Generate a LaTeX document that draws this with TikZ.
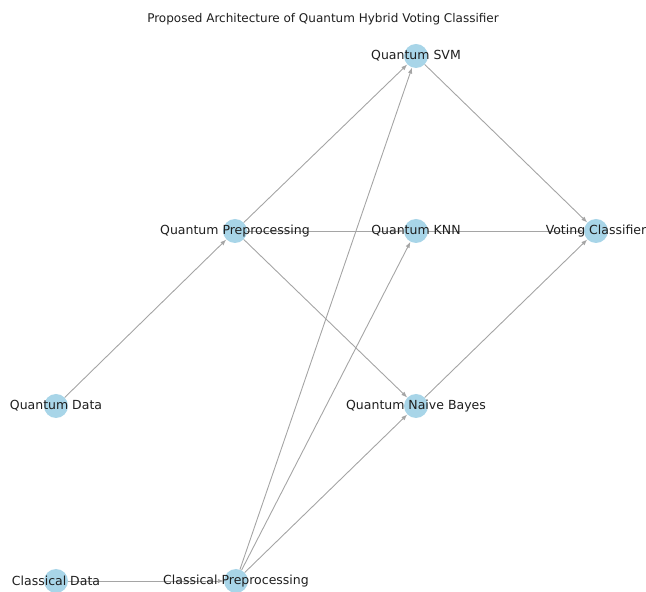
\documentclass[tikz,border=0pt]{standalone}
\usepackage{fontspec}
\setmainfont{DejaVu Sans}
\usetikzlibrary{arrows.meta}
\definecolor{nodefill}{RGB}{168,213,232}
\definecolor{edgegray}{RGB}{165,165,165}
\definecolor{labelink}{RGB}{30,30,30}
\tikzset{
  dot/.style={circle,fill=nodefill,draw=none,minimum size=24pt,inner sep=0pt},
  lbl/.style={font=\fontsize{12.5}{14}\selectfont,text=labelink,inner sep=0pt},
  link/.style={draw=edgegray,line width=0.9pt,-{Latex[length=6pt,width=4.5pt]}},
}
\begin{document}
\begin{tikzpicture}[x=1pt,y=1pt]
\useasboundingbox (0,0) rectangle (646,592);
% title
\node[font=\fontsize{12}{14}\selectfont,text=labelink] (title) at (323,573) {Proposed Architecture of Quantum Hybrid Voting Classifier};
% graph vertices
\node[dot] (qsvm) at (416,536) {};
\node[dot] (qpre) at (235,361) {};
\node[dot] (qknn) at (416,361) {};
\node[dot] (vote) at (596,361) {};
\node[dot] (qdat) at (56,186) {};
\node[dot] (qnb)  at (416,186) {};
\node[dot] (cdat) at (56,11) {};
\node[dot] (cpre) at (236,11) {};
% directed edges
\path[link] (qdat) -- (qpre);
\path[link] (qpre) -- (qsvm);
\path[link] (qpre) -- (qknn);
\path[link] (qpre) -- (qnb);
\path[link] (cdat) -- (cpre);
\path[link] (cpre) -- (qsvm);
\path[link] (cpre) -- (qknn);
\path[link] (cpre) -- (qnb);
\path[link] (qsvm) -- (vote);
\path[link] (qknn) -- (vote);
\path[link] (qnb)  -- (vote);
% vertex labels
\node[lbl] (qsvmL) at (qsvm) {Quantum SVM};
\node[lbl] (qpreL) at (qpre) {Quantum Preprocessing};
\node[lbl] (qknnL) at (qknn) {Quantum KNN};
\node[lbl] (voteL) at (vote) {Voting Classifier};
\node[lbl] (qdatL) at (qdat) {Quantum Data};
\node[lbl] (qnbL)  at (qnb)  {Quantum Naive Bayes};
\node[lbl] (cdatL) at (cdat) {Classical Data};
\node[lbl] (cpreL) at (cpre) {Classical Preprocessing};
\end{tikzpicture}
\end{document}
